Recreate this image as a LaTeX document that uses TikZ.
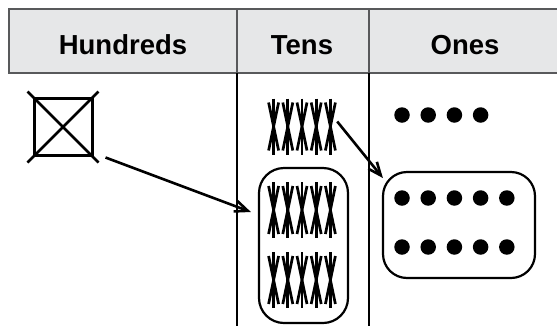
\documentclass[tikz,border=0pt]{standalone}
\usepackage{fontspec}
\setmainfont{Liberation Sans}
\usetikzlibrary{arrows.meta}
\definecolor{headfill}{HTML}{E6E7E8}
\definecolor{rulegray}{HTML}{58595B}
\tikzset{
  headrule/.style={draw=rulegray, line width=2pt},
  bodyrule/.style={draw=black, line width=1.4pt},
  headtext/.style={anchor=base, font=\fontsize{27.5}{30}\selectfont\bfseries, inner sep=0pt},
  hundredbox/.style={draw, line width=3pt, minimum width=58pt, minimum height=57pt, inner sep=0pt},
  crossline/.style={line width=2.8pt},
  groupbox/.style={draw, line width=2.2pt, rounded corners=25pt, inner sep=0pt},
  stickline/.style={line width=2.7pt},
  onedot/.style={circle, fill=black, minimum size=15.5pt, inner sep=0pt},
  trade/.style={line width=2.6pt, -{Straight Barb[length=13pt,width=11pt]}},
  pics/stick/.style={code={
    \draw[stickline] (0,-28) -- (0,28);
    \draw[stickline] (-5,-24) -- (5,24);
    \draw[stickline] (5,-24) -- (-5,24);
  }},
  pics/ten/.style={code={
    \foreach \i in {0,...,4} \pic at ({-28.4+14.2*\i},0) {stick};
  }}
}
\begin{document}
\begin{tikzpicture}[x=1pt, y=-1pt]
\useasboundingbox (0,0) rectangle (557,325);

% header band
\fill[headfill] (9,9) rectangle (562,72.5);
\draw[headrule] (562,9) -- (9,9) -- (9,72.5) -- (562,72.5);
\draw[headrule] (237,9) -- (237,72.5);
\draw[headrule] (369,9) -- (369,72.5);
\draw[bodyrule] (237,72.5) -- (237,326);
\draw[bodyrule] (369,72.5) -- (369,326);

\node[headtext] (hHund) at (123,54) {Hundreds};
\node[headtext] (hTens) at (302,54) {Tens};
\node[headtext] (hOnes) at (465,54) {Ones};

% one hundred, crossed out
\node[hundredbox] (hund) at (63,126.5) {};
\draw[crossline] ([shift={(-5,-5)}]hund.north west) -- ([shift={(5,6)}]hund.south east);
\draw[crossline] ([shift={(5,-5)}]hund.north east) -- ([shift={(-5,6)}]hund.south west);

% tens: one loose bundle and the two grouped ones
\node[minimum width=66pt, minimum height=58pt, inner sep=0pt] (tenTop) at (302,126.5) {};
\pic at (tenTop.center) {ten};
\node[groupbox, minimum width=89pt, minimum height=155pt] (tenGroup) at (303.5,245.5) {};
\node[minimum width=66pt, minimum height=56pt, inner sep=0pt] (tenA) at (302,210) {};
\node[minimum width=66pt, minimum height=56pt, inner sep=0pt] (tenB) at (302,280) {};
\pic at (tenA.center) {ten};
\pic at (tenB.center) {ten};

% ones
\foreach \i in {0,...,3} \node[onedot] (top\i) at ({402+26.2*\i},115) {};
\node[groupbox, rounded corners=24pt, minimum width=152pt, minimum height=106pt] (oneGroup) at (459,225) {};
\foreach \i in {0,...,4} {
  \node[onedot] (ra\i) at ({402+26.2*\i},198) {};
  \node[onedot] (rb\i) at ({402+26.2*\i},247) {};
}

% regrouping arrows
\coordinate (fromHund) at ([shift={(12,1)}]hund.south east);
\coordinate (toTens) at ([shift={(-7,-33.5)}]tenGroup.west);
\draw[trade] (fromHund) -- (toTens);
\coordinate (fromTen) at ([shift={(2,-5)}]tenTop.east);
\coordinate (toOnes) at ([shift={(1,-47)}]oneGroup.west);
\draw[trade] (fromTen) -- (toOnes);
\end{tikzpicture}
\end{document}
